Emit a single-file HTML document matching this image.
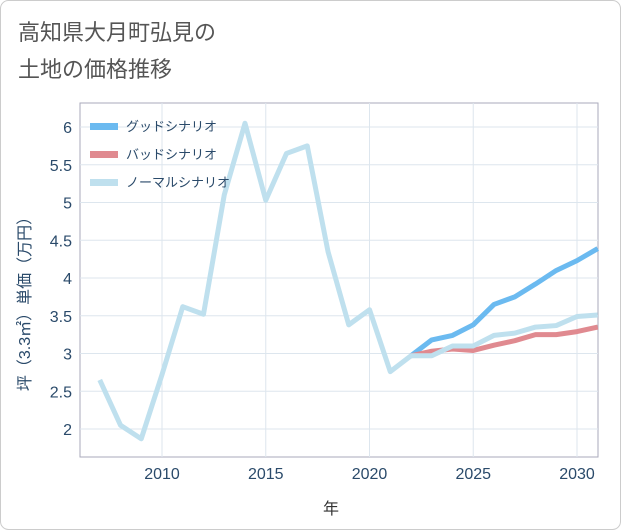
<!DOCTYPE html>
<html><head><meta charset="utf-8"><style>
body{margin:0;background:#fff;}
svg{display:block;font-family:"Liberation Sans","Noto Sans CJK JP",sans-serif;}
</style></head><body>
<svg id="c" width="621" height="530">
<rect x="0.5" y="0.5" width="620" height="529" rx="8" fill="#fff" stroke="#ccc"/>
<text x="18" y="40" font-size="22" fill="#555">高知県大月町弘見の</text>
<text x="18" y="77" font-size="22" fill="#555">土地の価格推移</text>
<g id="grid"></g><g id="series"></g><g id="legend"></g>
<text x="331" y="514" font-size="16" fill="#333" text-anchor="middle">年</text>
<text transform="translate(30,300) rotate(-90)" font-size="16" fill="#2a4a6a" text-anchor="middle">坪（3.3㎡）単価（万円）</text>
</svg>
<script>
const years=[2007,2008,2009,2010,2011,2012,2013,2014,2015,2016,2017,2018,2019,2020,2021,2022,2023,2024,2025,2026,2027,2028,2029,2030,2031];
const normal=[2.65,2.05,1.87,2.72,3.62,3.52,5.1,6.05,5.03,5.65,5.75,4.35,3.38,3.58,2.76,2.97,2.97,3.1,3.1,3.24,3.27,3.35,3.37,3.49,3.51];
const fyears=[2022,2023,2024,2025,2026,2027,2028,2029,2030,2031];
const good=[2.97,3.18,3.24,3.38,3.65,3.75,3.92,4.1,4.23,4.39];
const bad=[2.97,3.03,3.06,3.04,3.11,3.17,3.25,3.25,3.29,3.35];
const xTicks=[2010,2015,2020,2025,2030];
const yTicks=[2,2.5,3,3.5,4,4.5,5,5.5,6];
const L=80,R=598,T=103,B=457;
const X=y=>162+(y-2010)*20.75;
const Y=v=>429-(v-2)*75.5;
const NS="http://www.w3.org/2000/svg";
function mk(p,t,a){const e=document.createElementNS(NS,t);for(const k in a)e.setAttribute(k,a[k]);p.appendChild(e);return e;}
const g=document.getElementById('grid');
const bg=mk(g,'rect',{x:L,y:T,width:R-L,height:B-T,fill:'#fff',stroke:'#aab',"stroke-width":1});


xTicks.forEach(t=>{
 const l=mk(g,'line',{x1:X(t),x2:X(t),y1:T,y2:B,stroke:'#dde6ee'});
 
 
 const tx=mk(g,'text',{x:X(t),y:B+22,"font-size":16,fill:'#2a4a6a',"text-anchor":'middle'});tx.textContent=t;
 
 
});
yTicks.forEach(t=>{
 const l=mk(g,'line',{x1:L,x2:R,y1:Y(t),y2:Y(t),stroke:'#dde6ee'});
 
 
 const tx=mk(g,'text',{x:L-8,y:Y(t)+6,"font-size":16,fill:'#2a4a6a',"text-anchor":'end'});tx.textContent=t;
 
 
});
const s=document.getElementById('series');
function line(xs,vs,c,n){const p=mk(s,'polyline',{points:xs.map((x,i)=>X(x)+','+Y(vs[i])).join(' '),fill:'none',stroke:c,"stroke-width":5,"stroke-linejoin":'round'});
 
 }
line(fyears,good,'#6bbaf0','good-scenario-line');
line(fyears,bad,'#e08a90','bad-scenario-line');
line(years,normal,'#bfe0ee','normal-scenario-line');
const lg=document.getElementById('legend');
[['グッドシナリオ','#6bbaf0'],['バッドシナリオ','#e08a90'],['ノーマルシナリオ','#bfe0ee']].forEach((d,i)=>{
 const y=126+i*28;
 const r=mk(lg,'rect',{x:90,y:y-3,width:28,height:7,fill:d[1]});
 
 
 const t=mk(lg,'text',{x:126,y:y+5,"font-size":13,fill:'#2a4a6a'});t.textContent=d[0];
 
 
});
</script>
</body></html>
